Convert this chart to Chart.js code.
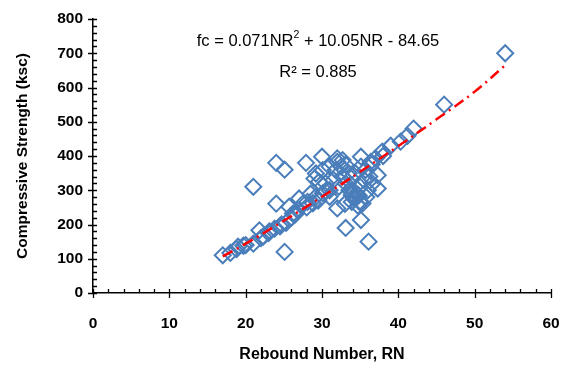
<!DOCTYPE html>
<html>
<head>
<meta charset="utf-8">
<script src="https://cdn.jsdelivr.net/npm/chart.js@4"></script>
<style>
html, body { margin:0; padding:0; background:#fff; }
#wrap { width:569px; height:366px; }
</style>
</head>
<body>
<div id="wrap"><canvas id="myChart" width="569" height="366"></canvas></div>
<script>
// measured points: rebound number vs compressive strength (ksc)
const reboundNumber = [
  17, 18, 18.8, 19.7, 21, 21.8, 22.3, 23.1, 23.8, 24.7, 25.3, 25.7, 26.2, 26.8, 27, 27.5,
  28.1, 28.8, 29.2, 30.1, 30.5, 31, 29.6, 29.2, 29, 30.1, 31, 31.8, 32.5, 32.7, 33.1, 33.6,
  33.9, 34.4, 33.9, 34.9, 35.3, 34.4, 35.1, 35.7, 36.2, 36.6, 36.4, 37, 33.8, 33.1, 32.7,
  37.9, 39, 40.3, 41.2, 42, 46, 54,
  21, 24, 25.1, 24, 25.1, 27.9, 30, 32, 32, 35.1, 33.1, 35.1, 36.1, 32, 37.3, 37.3,
  34, 34.5, 35, 34.2, 34.8, 33.5, 31.5, 32.2, 31, 30.5, 28, 26, 23, 22, 20, 19, 26.5, 24.5,
  35.5, 36, 36.5, 38, 33, 34.7, 29.5, 28.5, 35.8
];
const strength = [
  110, 117, 128, 138, 144, 183, 165, 180, 188, 200, 205, 252, 232, 242, 276, 261,
  266, 262, 281, 291, 296, 281, 325, 349, 334, 359, 369, 359, 369, 340, 320, 300,
  286, 281, 266, 266, 261, 349, 369, 359, 340, 320, 383, 393, 335, 374, 388,
  413, 430, 442, 459, 480, 550, 700,
  310, 380, 360, 261, 120, 380, 398, 393, 383, 398, 190, 213, 150, 247, 305, 344,
  300, 290, 310, 275, 285, 350, 330, 310, 300, 320, 250, 220, 175, 160, 140, 135, 230, 195,
  330, 300, 375, 400, 260, 255, 270, 290, 280
];
// polynomial trendline
const trendNR = [17, 20, 25, 30, 35, 40, 45, 50, 54];
const trendFc = [107, 144, 211, 281, 354, 429, 507, 588, 665];

const xMajor = [0, 10, 20, 30, 40, 50, 60];
const yMajor = [0, 100, 200, 300, 400, 500, 600, 700, 800];
const eqParts = ['fc = 0.071NR', '2', ' + 10.05NR - 84.65'];
const r2Label = 'R\u00B2 = 0.885';

const font = "'Liberation Sans', Arial, sans-serif";

const tickMarks = {
  id: 'tickMarks',
  afterDraw(chart) {
    const ctx = chart.ctx;
    const xs = chart.scales.x, ys = chart.scales.y;
    const ax = chart.chartArea.bottom;
    const ay = chart.chartArea.left;
    ctx.save();
    ctx.strokeStyle = '#000';
    ctx.lineWidth = 1.3;
    ctx.beginPath();
    for (let v = 0; v <= 60; v += 2) {
      const px = Math.round(xs.getPixelForValue(v)) + 0.5;
      if (v % 10 === 0) { ctx.moveTo(px, ax - 4); ctx.lineTo(px, ax + 5); }
      else { ctx.moveTo(px, ax - 4); ctx.lineTo(px, ax); }
    }
    for (let v = 0; v <= 800; v += 20) {
      const py = Math.round(ys.getPixelForValue(v)) + 0.5;
      if (v % 100 === 0) { ctx.moveTo(ay - 5, py); ctx.lineTo(ay + 4, py); }
      else { ctx.moveTo(ay, py); ctx.lineTo(ay + 4, py); }
    }
    ctx.stroke();

    // equation labels
    ctx.fillStyle = '#000';
    ctx.textBaseline = 'alphabetic';
    ctx.font = '16.5px ' + font;
    const w0 = ctx.measureText(eqParts[0]).width;
    const w2 = ctx.measureText(eqParts[2]).width;
    ctx.font = '10.5px ' + font;
    const w1 = ctx.measureText(eqParts[1]).width;
    let x = 318 - (w0 + w1 + w2) / 2;
    const y = 46;
    ctx.font = '16.5px ' + font;
    ctx.fillText(eqParts[0], x, y);
    x += w0;
    ctx.font = '10.5px ' + font;
    ctx.fillText(eqParts[1], x, y - 8);
    x += w1;
    ctx.font = '16.5px ' + font;
    ctx.fillText(eqParts[2], x, y);
    ctx.textAlign = 'center';
    ctx.fillText(r2Label, 318, 77);
    ctx.restore();
  }
};

const ctx = document.getElementById('myChart');
const myChart = new Chart(ctx, {
  type: 'scatter',
  data: {
    datasets: [
      {
        label: 'Trend',
        type: 'line',
        data: trendNR.map((v, i) => ({x: v, y: trendFc[i]})),
        borderColor: '#ff0000',
        borderWidth: 2.5,
        borderDash: [11, 5, 2, 5],
        pointRadius: 0,
        fill: false,
        tension: 0.4,
        order: 0
      },
      {
        label: 'Data',
        data: reboundNumber.map((v, i) => ({x: v, y: strength[i]})),
        pointStyle: 'rectRot',
        pointRadius: 8,
        pointBorderWidth: 2,
        pointBorderColor: '#4a7ebb',
        pointBackgroundColor: 'rgba(0,0,0,0)',
        order: 1
      }
    ]
  },
  options: {
    responsive: false,
    animation: false,
    layout: { padding: { top: 19, right: 18, left: 0, bottom: 0 } },
    plugins: { legend: { display: false }, tooltip: { enabled: false } },
    scales: {
      x: {
        type: 'linear', min: 0, max: 60,
        afterBuildTicks: s => { s.ticks = xMajor.map(v => ({value: v})); },
        afterFit: s => { s.height = 73; s.paddingLeft = 0; s.paddingRight = 0; },
        grid: { display: false, drawTicks: false },
        border: { display: true, color: '#000', width: 1.5 },
        ticks: { color: '#000', padding: 21, font: { family: font, size: 15.5, weight: 'bold' } },
        title: { display: true, text: 'Rebound Number, RN', color: '#000',
          padding: { top: 2, bottom: 2 }, font: { family: font, size: 16, weight: 'bold' } }
      },
      y: {
        type: 'linear', min: 0, max: 800,
        afterBuildTicks: s => { s.ticks = yMajor.map(v => ({value: v})); },
        afterFit: s => { s.width = 93; s.paddingTop = 0; s.paddingBottom = 0; },
        grid: { display: false, drawTicks: false },
        border: { display: true, color: '#000', width: 1.5 },
        ticks: { color: '#000', padding: 10, font: { family: font, size: 15.5, weight: 'bold' } },
        title: { display: true, text: 'Compressive Strength (ksc)', color: '#000',
          padding: { top: 13, bottom: 2 }, font: { family: font, size: 15.5, weight: 'bold' } }
      }
    }
  },
  plugins: [tickMarks]
});
</script>
</body>
</html>
